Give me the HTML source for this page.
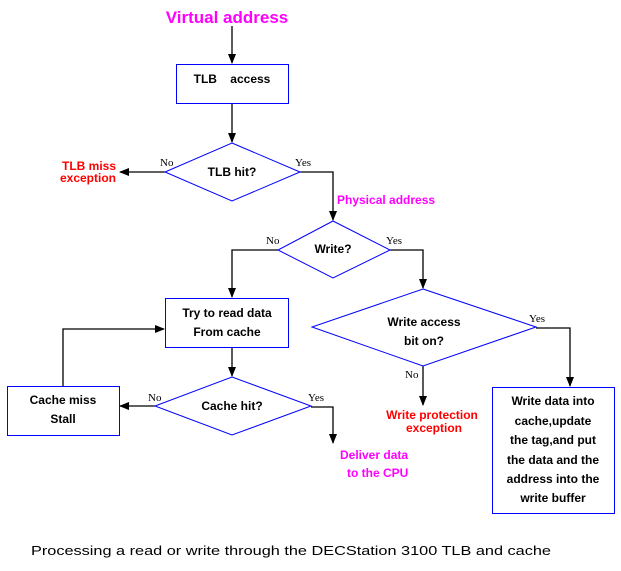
<!DOCTYPE html>
<html><head><meta charset="utf-8"><style>
html,body{margin:0;padding:0;background:#fff;}
svg{display:block;}
.b{font-family:"Liberation Sans",Arial,sans-serif;font-weight:bold;font-size:12px;fill:#000;}
.s{font-family:"Liberation Serif",serif;font-size:11px;fill:#000;}
.m{font-family:"Liberation Sans",Arial,sans-serif;font-weight:bold;font-size:12px;fill:#ff00ff;}
.r{font-family:"Liberation Sans",Arial,sans-serif;font-weight:bold;font-size:12px;fill:#ff0000;}
</style></head><body>
<svg width="621" height="571" viewBox="0 0 621 571" xmlns="http://www.w3.org/2000/svg">
<defs><marker id="a" markerWidth="10" markerHeight="10" refX="9" refY="5" orient="auto" markerUnits="userSpaceOnUse"><path d="M0,1 L10,5 L0,9 Z" fill="#000"/></marker></defs>
<g stroke="#000" stroke-width="1.3" fill="none">
<line x1="232" y1="26" x2="232" y2="63" marker-end="url(#a)"/>
<line x1="232" y1="103" x2="232" y2="142" marker-end="url(#a)"/>
<line x1="165" y1="172" x2="120" y2="172" marker-end="url(#a)"/>
<polyline points="300,172 333,172 333,220" marker-end="url(#a)"/>
<polyline points="278,250 232,250 232,297" marker-end="url(#a)"/>
<polyline points="390,250 423,250 423,288" marker-end="url(#a)"/>
<line x1="232" y1="347" x2="232" y2="376" marker-end="url(#a)"/>
<line x1="155" y1="406" x2="120" y2="406" marker-end="url(#a)"/>
<polyline points="63,386 63,329 164,329" marker-end="url(#a)"/>
<polyline points="311,407 333,407 333,443" marker-end="url(#a)"/>
<line x1="423" y1="366" x2="423" y2="405" marker-end="url(#a)"/>
<polyline points="536,328 570,328 570,386" marker-end="url(#a)"/>
</g>
<g stroke="#0000ff" stroke-width="1" fill="#fff">
<rect x="176.5" y="64.5" width="112" height="39"/>
<polygon points="232,143 300,172 232,201 165,172"/>
<polygon points="333,221 390,250 333,278 278,250"/>
<rect x="165.5" y="298.5" width="123" height="49"/>
<polygon points="232,377 311,406 232,435 155,406"/>
<rect x="7.5" y="386.5" width="112" height="49"/>
<polygon points="423,289 536,327 423,366 312,327"/>
<rect x="492.5" y="387.5" width="122" height="126"/>
</g>
<text x="227" y="23" text-anchor="middle" font-family="Liberation Sans,Arial,sans-serif" font-weight="bold" font-size="17" fill="#ff00ff">Virtual address</text>
<text x="232" y="83" text-anchor="middle" class="b" xml:space="preserve">TLB    access</text>
<text x="232" y="176" text-anchor="middle" class="b">TLB hit?</text>
<text x="116" y="170" text-anchor="end" class="r">TLB miss</text>
<text x="116" y="182" text-anchor="end" class="r">exception</text>
<text x="160" y="166" class="s">No</text>
<text x="295" y="166" class="s">Yes</text>
<text x="337" y="204" class="m">Physical address</text>
<text x="333" y="253" text-anchor="middle" class="b">Write?</text>
<text x="266" y="244" class="s">No</text>
<text x="386" y="244" class="s">Yes</text>
<text x="227" y="317" text-anchor="middle" class="b">Try to read data</text>
<text x="227" y="336" text-anchor="middle" class="b">From cache</text>
<text x="232" y="410" text-anchor="middle" class="b">Cache hit?</text>
<text x="148" y="401" class="s">No</text>
<text x="308" y="401" class="s">Yes</text>
<text x="63" y="404" text-anchor="middle" class="b">Cache miss</text>
<text x="63" y="423" text-anchor="middle" class="b">Stall</text>
<text x="340" y="459" class="m">Deliver data</text>
<text x="347" y="477" class="m">to the CPU</text>
<text x="424" y="326" text-anchor="middle" class="b">Write access</text>
<text x="424" y="345" text-anchor="middle" class="b">bit on?</text>
<text x="529" y="322" class="s">Yes</text>
<text x="405" y="378" class="s">No</text>
<text x="432" y="419" text-anchor="middle" class="r">Write protection</text>
<text x="434" y="432" text-anchor="middle" class="r">exception</text>
<text x="553" y="405" text-anchor="middle" class="b">Write data into</text>
<text x="553" y="425" text-anchor="middle" class="b">cache,update</text>
<text x="553" y="444" text-anchor="middle" class="b">the tag,and put</text>
<text x="553" y="464" text-anchor="middle" class="b">the data and the</text>
<text x="553" y="483" text-anchor="middle" class="b">address into the</text>
<text x="553" y="502" text-anchor="middle" class="b">write buffer</text>
<text x="31" y="555" font-family="Liberation Sans,Arial,sans-serif" font-size="13" fill="#000" textLength="520" lengthAdjust="spacingAndGlyphs">Processing a read or write through the DECStation 3100 TLB and cache</text>
</svg>
</body></html>
